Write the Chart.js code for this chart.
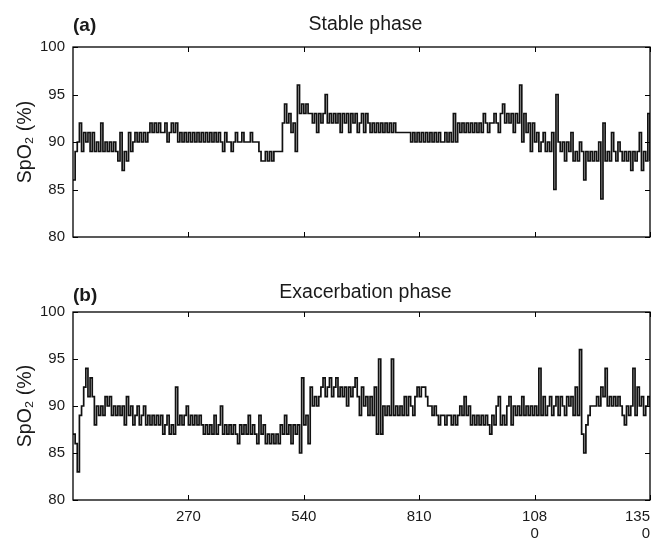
<!DOCTYPE html>
<html>
<head>
<meta charset="utf-8">
<title>SpO2 stable vs exacerbation</title>
<script src="https://cdn.jsdelivr.net/npm/chart.js@4.4.1/dist/chart.umd.min.js"></script>
<style>
    body { margin: 0; background: #fff; }
    .panel { position: absolute; left: 0; width: 654px; height: 270px; }
</style>
</head>
<body>
<div class="panel" style="top:0"><canvas id="stable" width="654" height="270"></canvas></div>
<div class="panel" style="top:270px"><canvas id="exacerbation" width="654" height="270"></canvas></div>
<script>
    // one reading every 5 units along the x axis, 0 .. 1350
    var STEP = 5;

    var stableSpO2 = [
        86,89,90,92,89,91,90,91,89,91,89,90,89,92,89,90,89,90,89,90,89,88,91,87,89,88,91,
        89,90,91,90,91,90,91,90,91,92,91,92,91,92,91,91,92,90,91,92,91,92,90,91,90,91,90,
        91,90,91,90,91,90,91,90,91,90,91,90,91,90,91,90,89,91,90,90,89,90,91,90,90,91,90,
        90,90,91,90,90,90,89,88,88,89,88,89,88,89,89,89,89,92,94,92,93,91,92,89,96,93,94,
        93,94,93,93,92,93,91,93,92,93,95,92,93,92,93,92,93,91,93,92,93,91,93,92,93,91,92,
        93,91,93,92,91,92,91,92,91,92,91,92,91,92,91,92,91,91,91,91,91,91,91,90,91,90,91,
        90,91,90,91,90,91,90,91,90,91,90,90,91,90,91,90,93,90,92,91,92,91,92,91,92,91,92,
        91,92,91,93,92,91,92,92,93,92,91,93,94,92,93,92,93,91,93,92,96,90,93,91,92,89,92,
        90,91,89,90,91,89,90,89,91,85,95,90,89,90,88,90,89,91,88,89,88,90,89,86,89,88,89,
        88,89,88,90,84,92,88,89,88,91,89,88,90,89,88,89,88,89,87,89,88,89,91,87,89,88,93,
        88
    ];

    var exacerbationSpO2 = [
        87,86,83,89,90,92,94,91,93,91,88,90,89,90,89,91,90,91,89,90,89,90,89,90,88,91,89,
        90,88,89,90,88,89,90,88,89,88,89,88,89,88,89,87,88,89,87,88,87,92,88,89,88,89,90,
        88,89,88,89,88,89,88,87,88,87,88,87,89,87,88,90,87,88,87,88,87,88,87,86,88,87,88,
        87,89,87,88,87,86,89,87,88,86,87,86,87,86,87,86,88,87,89,87,88,86,88,87,88,85,93,
        88,89,86,92,90,91,90,91,92,93,91,92,93,91,92,93,91,92,91,92,90,92,91,92,93,91,89,
        92,90,91,89,91,89,92,87,95,87,90,89,90,89,95,89,90,89,90,89,91,89,91,90,89,91,92,
        91,92,92,91,90,90,89,90,89,88,89,89,88,89,89,88,89,88,89,90,89,91,89,90,88,89,88,
        89,88,89,88,89,88,87,89,88,90,91,88,89,88,90,91,88,90,89,90,89,91,89,90,89,90,89,
        90,89,94,89,91,89,90,91,89,90,91,89,91,90,89,91,90,91,89,92,89,96,87,85,88,89,90,
        90,90,91,90,92,91,94,90,91,90,91,90,91,90,89,88,90,89,90,94,89,92,90,91,89,90,91,
        90
    ];

    var xTicks = [270, 540, 810, 1080, 1350];
    var yTicks = [80, 85, 90, 95, 100];

    var TEXT = '#1a1a1a';
    Chart.defaults.font.family = "'Liberation Sans', Arial, Helvetica, sans-serif";
    Chart.defaults.color = TEXT;

    // MATLAB style box with inward ticks plus panel letter and title
    var framePlugin = {
        id: 'frame',
        afterDraw: function(chart, args, opts) {
            var ctx = chart.ctx;
            var a = chart.chartArea;
            var sx = chart.scales.x, sy = chart.scales.y;
            ctx.save();
            ctx.strokeStyle = '#000';
            ctx.lineWidth = 1.3;
            ctx.strokeRect(a.left, a.top, a.right - a.left, a.bottom - a.top);
            ctx.lineWidth = 1;
            ctx.beginPath();
            xTicks.forEach(function(v) {
                var px = Math.round(sx.getPixelForValue(v)) + 0.5;
                ctx.moveTo(px, a.bottom); ctx.lineTo(px, a.bottom - 5);
                ctx.moveTo(px, a.top); ctx.lineTo(px, a.top + 5);
            });
            yTicks.forEach(function(v) {
                var py = Math.round(sy.getPixelForValue(v)) + 0.5;
                ctx.moveTo(a.left, py); ctx.lineTo(a.left + 5, py);
                ctx.moveTo(a.right, py); ctx.lineTo(a.right - 5, py);
            });
            ctx.stroke();

            ctx.fillStyle = TEXT;
            ctx.textBaseline = 'alphabetic';
            ctx.font = "bold 19px 'Liberation Sans', Arial, sans-serif";
            ctx.textAlign = 'left';
            ctx.fillText(opts.letter, a.left, a.top - opts.letterGap);
            ctx.font = "19.5px 'Liberation Sans', Arial, sans-serif";
            ctx.textAlign = 'center';
            ctx.fillText(opts.title, (a.left + a.right) / 2 + 4, a.top - opts.titleGap);
            ctx.restore();
        }
    };

    function xLabel(v) {
        if (v === 0) return '';
        var s = String(v);
        // long labels wrap like in the original figure
        return s.length > 3 ? [s.slice(0, 3), s.slice(3)] : s;
    }

    function makePanel(id, values, opts) {
        var points = values.map(function(v, i) { return { x: i * STEP, y: v }; });
        return new Chart(document.getElementById(id), {
            type: 'line',
            data: {
                datasets: [{
                    data: points,
                    borderColor: '#111',
                    borderWidth: 1.7,
                    pointRadius: 0,
                    stepped: true,
                    fill: false
                }]
            },
            options: {
                responsive: false,
                animation: false,
                devicePixelRatio: 1,
                layout: { padding: { top: opts.top, right: 4, left: 0, bottom: 0 } },
                plugins: {
                    legend: { display: false },
                    tooltip: { enabled: false },
                    frame: { letter: opts.letter, title: opts.title, letterGap: opts.letterGap, titleGap: opts.titleGap }
                },
                scales: {
                    x: {
                        type: 'linear',
                        min: 0,
                        max: 1350,
                        grid: { display: false, drawTicks: false },
                        border: { display: false },
                        ticks: {
                            display: opts.showX,
                            stepSize: 270,
                            autoSkip: false,
                            maxRotation: 0,
                            align: 'inner',
                            padding: 9,
                            font: { size: 15, lineHeight: 1.1 },
                            callback: xLabel
                        },
                        afterFit: function(s) {
                            s.height = opts.xHeight;
                            s.paddingLeft = 0;
                            s.paddingRight = 0;
                        }
                    },
                    y: {
                        min: 80,
                        max: 100,
                        grid: { display: false, drawTicks: false },
                        border: { display: false },
                        ticks: { stepSize: 5, padding: 8, font: { size: 15 } },
                        title: {
                            display: true,
                            text: 'SpO\u2082 (%)',
                            font: { size: 19.5 },
                            padding: { top: 14, bottom: 0 }
                        },
                        afterFit: function(s) { s.width = 73; }
                    }
                }
            },
            plugins: [framePlugin]
        });
    }

    makePanel('stable', stableSpO2, {
        letter: '(a)', title: 'Stable phase', top: 47, xHeight: 33,
        showX: false, letterGap: 16, titleGap: 17
    });

    makePanel('exacerbation', exacerbationSpO2, {
        letter: '(b)', title: 'Exacerbation phase', top: 42, xHeight: 40,
        showX: true, letterGap: 11, titleGap: 14
    });
</script>
</body>
</html>
